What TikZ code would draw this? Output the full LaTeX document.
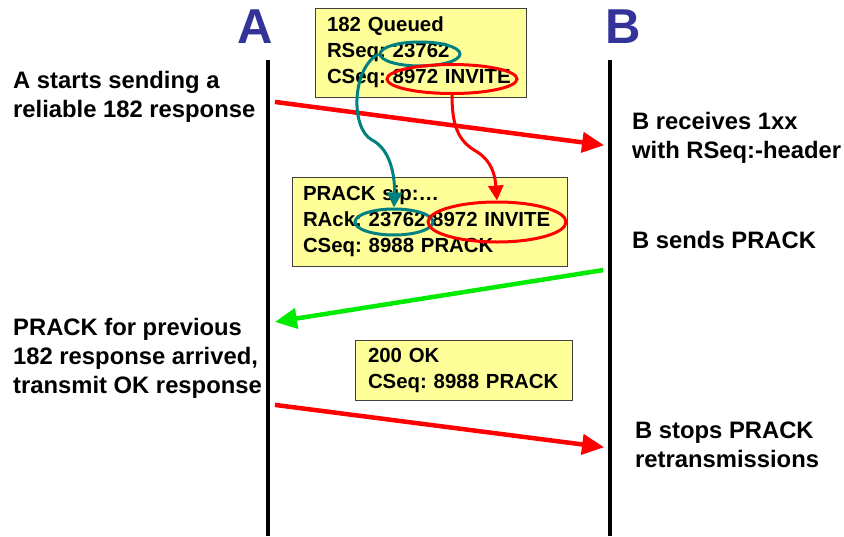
\documentclass[tikz,border=0pt]{standalone}
\usepackage{fontspec}
\setmainfont{Liberation Sans}
\usetikzlibrary{arrows.meta,shapes.geometric}
\definecolor{boxyellow}{RGB}{255,255,153}
\definecolor{peerblue}{RGB}{51,51,153}
\definecolor{seqteal}{RGB}{0,128,128}
\definecolor{ackgreen}{RGB}{0,235,0}
\frenchspacing

\begin{document}
\begin{tikzpicture}[x=1pt,y=-1pt,
  peer/.style={text=peerblue,inner sep=0pt,font=\fontsize{49}{49}\selectfont\bfseries},
  note/.style={align=left,inner sep=0pt,font=\fontsize{23.8}{29}\selectfont\bfseries},
  msgbox/.style={draw=black!75,fill=boxyellow,line width=0.8pt,align=left,
    inner ysep=4pt,font=\fontsize{20.4}{26}\selectfont\bfseries},
  lifeline/.style={line width=4pt},
  msg/.style={line width=4.5pt,-{Triangle[length=22pt,width=20pt]}},
  ring/.style={ellipse,line width=3pt,inner sep=0pt},
  link/.style={line width=3pt,-{Triangle[length=15pt,width=15pt]}}]
  \useasboundingbox (0,0) rectangle (844,536);

  % peers and lifelines
  \node[peer,anchor=base] (peerA) at (255,43) {A};
  \node[peer,anchor=base] (peerB) at (623,43) {B};
  \coordinate (atop) at (268,60);
  \coordinate (abot) at (268,536);
  \coordinate (btop) at (610,60);
  \coordinate (bbot) at (610,536);
  \draw[lifeline] (atop) -- (abot);
  \draw[lifeline] (btop) -- (bbot);

  % messages
  \node[msgbox,text width=187pt,inner xsep=12pt,minimum height=89pt] (queued) at (420.5,52.5)
    {182 Queued\\RSeq: 23762\\CSeq: 8972 INVITE};
  \node[msgbox,text width=253pt,inner xsep=11pt,minimum height=89pt] (prack) at (429.5,221.5)
    {PRACK sip:\dots\\RAck: 23762 8972 INVITE\\CSeq: 8988 PRACK};
  \node[msgbox,text width=191pt,inner xsep=13pt,minimum height=60pt] (okbox) at (463.5,370)
    {200 OK\\CSeq: 8988 PRACK};

  % highlighted fields
  \node[ring,draw=seqteal,minimum width=80pt,minimum height=24pt] (rseq) at (420,54) {};
  \node[ring,draw=red,minimum width=130pt,minimum height=29pt] (invite) at (452,79) {};
  \node[ring,draw=seqteal,minimum width=78pt,minimum height=26pt] (rack) at (394,222) {};
  \node[ring,draw=red,minimum width=138pt,minimum height=40pt] (ackinv) at (497,222) {};

  % side notes
  \node[note,anchor=base west] (sendnote) at (13,117) {A starts sending a\\reliable 182 response};
  \node[note,anchor=base west] (recvnote) at (632,158) {B receives 1xx\\with RSeq:-header};
  \node[note,anchor=base west] (acknote) at (632,248) {B sends PRACK};
  \node[note,anchor=base west] (oknote) at (13,393) {PRACK for previous\\182 response arrived,\\transmit OK response};
  \node[note,anchor=base west] (stopnote) at (635,467) {B stops PRACK\\retransmissions};

  % arrows
  \coordinate (a1) at (268,101);
  \coordinate (b1) at (610,146);
  \coordinate (b2) at (610,269);
  \coordinate (a2) at (268,323);
  \coordinate (a3) at (268,404);
  \coordinate (b3) at (610,448);
  \draw[msg,red,shorten <=7pt,shorten >=6pt] (a1) -- (b1);
  \draw[msg,ackgreen,shorten <=7pt,shorten >=7pt] (b2) -- (a2);
  \draw[msg,red,shorten <=7pt,shorten >=6pt] (a3) -- (b3);

  \draw[link,seqteal] (rseq.west) .. controls (352,68) and (350,128) .. (372,140)
    .. controls (392,150) and (395,180) .. (rack.north);
  \draw[link,red] (invite.south) .. controls (452,125) and (458,140) .. (474,150)
    .. controls (492,160) and (495,175) .. (ackinv.north);
\end{tikzpicture}
\end{document}
